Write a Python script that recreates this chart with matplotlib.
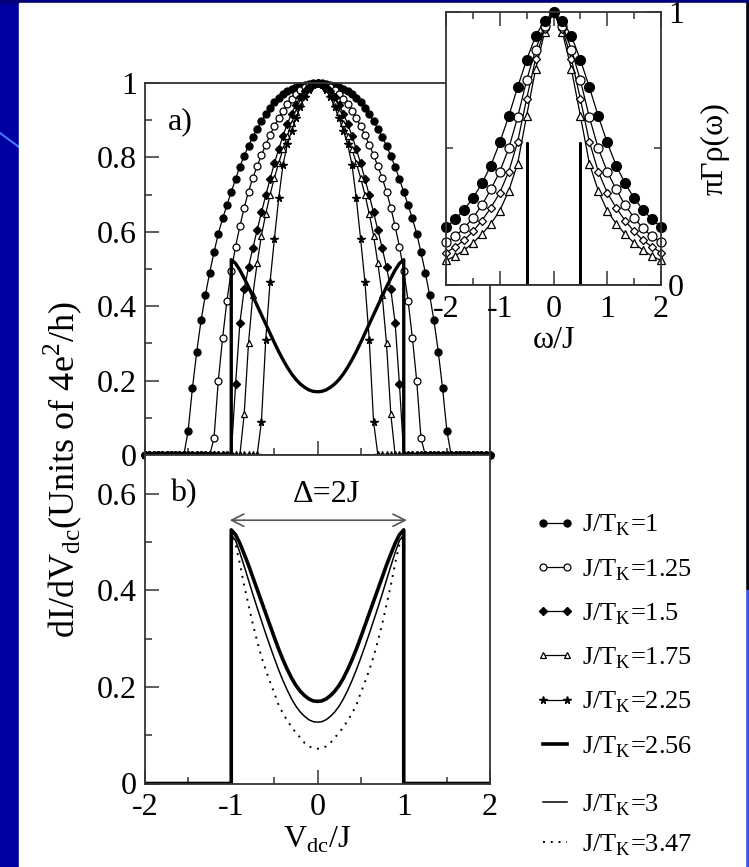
import numpy as np
import matplotlib
matplotlib.use("Agg")
import matplotlib.pyplot as plt
from matplotlib.lines import Line2D
from matplotlib.patches import Rectangle
from matplotlib.ticker import MultipleLocator, FixedLocator, FuncFormatter

plt.rcParams['font.family'] = ['Liberation Serif', 'DejaVu Serif']
plt.rcParams['mathtext.fontset'] = 'custom'
plt.rcParams['mathtext.rm'] = 'Liberation Serif'
plt.rcParams['axes.unicode_minus'] = False

# ---- panel a) / b): conductance, half curves for V_dc/J = 0 ... 2 (step 0.05), symmetric
v_half = np.linspace(0, 2, 41)
g_jtk1 = [1.000, 0.999, 0.997, 0.995, 0.992, 0.989, 0.985, 0.979, 0.971, 0.961,
          0.949, 0.934, 0.916, 0.897, 0.877, 0.855, 0.831, 0.804, 0.775, 0.742,
          0.707, 0.672, 0.636, 0.595, 0.545, 0.490, 0.430, 0.362, 0.278, 0.180,
          0.065] + [0.0] * 10
g_jtk125 = [1.000, 0.998, 0.994, 0.988, 0.980, 0.970, 0.958, 0.943, 0.926, 0.906,
            0.884, 0.860, 0.834, 0.806, 0.776, 0.745, 0.708, 0.665, 0.615, 0.560,
            0.495, 0.415, 0.315, 0.200, 0.045] + [0.0] * 16
g_jtk15 = [1.000, 0.997, 0.990, 0.978, 0.962, 0.942, 0.918, 0.890, 0.858, 0.822,
           0.784, 0.742, 0.698, 0.652, 0.604, 0.556, 0.505, 0.445, 0.355, 0.190,
           0.000] + [0.0] * 20
g_jtk175 = [1.000, 0.996, 0.986, 0.970, 0.948, 0.922, 0.892, 0.858, 0.822, 0.785,
            0.745, 0.700, 0.648, 0.590, 0.515, 0.430, 0.300, 0.110, 0.000] + [0.0] * 22
g_jtk225 = [1.000, 0.995, 0.982, 0.962, 0.935, 0.905, 0.872, 0.835, 0.780, 0.690,
            0.580, 0.465, 0.310, 0.090, 0.000] + [0.0] * 26

# gapped curves, V_dc/J = 0 ... 1 (step 0.05), zero outside |V| > 1
v_gap = np.linspace(0, 1, 21)
g_jtk256 = [0.170, 0.171, 0.175, 0.182, 0.191, 0.203, 0.218, 0.236, 0.256, 0.278,
            0.302, 0.327, 0.352, 0.377, 0.402, 0.427, 0.452, 0.475, 0.497, 0.515, 0.525]
g_jtk3 = [0.127, 0.128, 0.132, 0.139, 0.148, 0.160, 0.175, 0.193, 0.213, 0.235,
          0.259, 0.284, 0.310, 0.337, 0.364, 0.392, 0.421, 0.450, 0.478, 0.503, 0.515]
g_jtk347 = [0.072, 0.073, 0.077, 0.084, 0.095, 0.105, 0.117, 0.130, 0.145, 0.162,
            0.187, 0.210, 0.235, 0.262, 0.295, 0.330, 0.370, 0.410, 0.455, 0.495, 0.510]

# ---- inset: spectral function, omega/J = 0 ... 2, symmetric
w_half = np.linspace(0, 2, 13)
rho_jtk1 = [1.0, 0.968, 0.912, 0.825, 0.725, 0.618, 0.522, 0.437, 0.372, 0.318, 0.275, 0.240, 0.212]
rho_jtk125 = [1.0, 0.950, 0.862, 0.750, 0.615, 0.500, 0.415, 0.350, 0.292, 0.246, 0.207, 0.178, 0.156]
rho_jtk15 = [1.0, 0.938, 0.828, 0.682, 0.525, 0.415, 0.338, 0.282, 0.236, 0.196, 0.164, 0.139, 0.119]
rho_jtk175 = [1.0, 0.925, 0.790, 0.620, 0.445, 0.345, 0.272, 0.224, 0.186, 0.154, 0.127, 0.106, 0.090]
w_gap = [-2, -0.5, -0.5, -0.5, 0.5, 0.5, 0.5, 2]
rho_gap = [0, 0, 0.52, 0, 0, 0.52, 0, 0]

labels = ['J/T$_\\mathregular{K}$=1', 'J/T$_\\mathregular{K}$=1.25', 'J/T$_\\mathregular{K}$=1.5',
          'J/T$_\\mathregular{K}$=1.75', 'J/T$_\\mathregular{K}$=2.25', 'J/T$_\\mathregular{K}$=2.56',
          'J/T$_\\mathregular{K}$=3', 'J/T$_\\mathregular{K}$=3.47']


def mirror(x, y):
    x = np.asarray(x, float)
    y = np.asarray(y, float)
    return np.concatenate([-x[:0:-1], x]), np.concatenate([y[:0:-1], y])


def gapped(x, y):
    # vertical edges at |V| = 1, zero outside
    xm, ym = mirror(x, y)
    return (np.concatenate([[-2, -1], xm, [1, 2]]),
            np.concatenate([[0, 0], ym, [0, 0]]))


W, H = 749, 867
fx = lambda px: px / W
fy = lambda py: 1 - py / H

fig = plt.figure(figsize=(W / 100, H / 100), dpi=100)
fig.patch.set_facecolor('#0000a0')
# slide background pieces
fig.add_artist(Rectangle((0, fy(3)), 1, 3 / H, transform=fig.transFigure,
                         color='#000078', zorder=-5))
fig.add_artist(Rectangle((fx(745), fy(590)), 4 / W, 587 / H, transform=fig.transFigure,
                         color='#05050f', zorder=-5))
fig.add_artist(Rectangle((fx(745), 0), 4 / W, fy(590), transform=fig.transFigure,
                         color='#3355ee', zorder=-5))
fig.add_artist(Line2D([0, fx(19)], [fy(133), fy(147)], transform=fig.transFigure,
                      color='#4477ff', lw=1.5, zorder=-5))
fig.add_artist(Rectangle((fx(19), 0), (745 - 19) / W, fy(3), transform=fig.transFigure,
                         color='white', zorder=-4))

ax_a = fig.add_axes([fx(145), fy(455), (490 - 145) / W, (455 - 83) / H])
ax_b = fig.add_axes([fx(145), fy(783.5), (490 - 145) / W, (783.5 - 455) / H])
ax_in = fig.add_axes([fx(446), fy(285), (661 - 446) / W, (285 - 12) / H])
ax_in.set_zorder(3)

FS = 23
fmt = FuncFormatter(lambda v, p: '%g' % round(v, 3))

for ax in (ax_a, ax_b, ax_in):
    ax.set_xlim(-2, 2)
    ax.xaxis.set_major_locator(MultipleLocator(1))
    ax.xaxis.set_minor_locator(MultipleLocator(0.5))
    ax.xaxis.set_major_formatter(fmt)
    ax.yaxis.set_major_formatter(fmt)
    for s in ax.spines.values():
        s.set_linewidth(1.3)
        s.set_color('#333333')
    ax.tick_params(which='both', direction='in', width=1.1, color='#333333', labelsize=FS)
    ax.tick_params(which='major', length=10)
    ax.tick_params(which='minor', length=5)

# ---- panel a)
ax_a.set_ylim(0, 1)
ax_a.yaxis.set_major_locator(MultipleLocator(0.2))
ax_a.yaxis.set_minor_locator(MultipleLocator(0.1))
ax_a.tick_params(labelbottom=False, pad=6)

line_kw = dict(color='black', lw=0.9, clip_on=False)
h1, = ax_a.plot(*mirror(v_half, g_jtk1), marker='o', ms=5, mfc='black', mec='black', **line_kw)
h2, = ax_a.plot(*mirror(v_half, g_jtk125), marker='o', ms=5, mfc='white', mec='black', mew=0.9, **line_kw)
h3, = ax_a.plot(*mirror(v_half, g_jtk15), marker='D', ms=3.6, mfc='black', mec='black', **line_kw)
h4, = ax_a.plot(*mirror(v_half, g_jtk175), marker='^', ms=5, mfc='white', mec='black', mew=0.9, **line_kw)
h5, = ax_a.plot(*mirror(v_half, g_jtk225), marker='*', ms=5.5, mfc='black', mec='black', **line_kw)
ax_a.plot(*gapped(v_gap, g_jtk256), color='black', lw=2.4, clip_on=False)
ax_a.text(-1.73, 0.897, 'a)', fontsize=FS, va='center', ha='left')

# ---- panel b)
ax_b.set_ylim(0, 0.68)
ax_b.yaxis.set_major_locator(MultipleLocator(0.2))
ax_b.yaxis.set_minor_locator(MultipleLocator(0.1))
ax_b.tick_params(axis='y', pad=6)
ax_b.tick_params(axis='x', pad=7)
h8, = ax_b.plot(*gapped(v_gap, g_jtk347), color='black', lw=1.4, ls=(0, (1, 3)))
h7, = ax_b.plot(*gapped(v_gap, g_jtk3), color='black', lw=1.1)
h6, = ax_b.plot(*gapped(v_gap, g_jtk256), color='black', lw=2.6)
ax_b.annotate('', xy=(-1.05, 0.545), xytext=(1.07, 0.545),
              arrowprops=dict(arrowstyle='<->', color='#555555', lw=1.2, mutation_scale=22))
ax_b.text(0.1, 0.598, '\u0394=2J', fontsize=FS, ha='center', va='center')
ax_b.text(-1.71, 0.6, 'b)', fontsize=FS, va='center', ha='left')
ax_b.set_xlabel('V$_\\mathregular{dc}$/J', fontsize=FS, labelpad=2)

fig.text(fx(63), fy(470), 'dI/dV$_\\mathregular{dc}$(Units of 4e$^\\mathregular{2}$/h)',
         rotation=90, ha='center', va='center', fontsize=26)

# ---- inset
ax_in.set_ylim(0, 1)
ax_in.yaxis.set_major_locator(FixedLocator([0, 1]))
ax_in.yaxis.set_minor_locator(FixedLocator([0.5]))
ax_in.tick_params(which='both', top=True, right=True, labelleft=False, labelright=True)
ax_in.tick_params(axis='x', pad=7)
ax_in.tick_params(axis='y', pad=5)
ax_in.plot(*mirror(w_half, rho_jtk175), marker='^', ms=6, mfc='white', mec='black', mew=0.9, **line_kw)
ax_in.plot(*mirror(w_half, rho_jtk15), marker='D', ms=4.5, mfc='white', mec='black', mew=0.9, **line_kw)
ax_in.plot(*mirror(w_half, rho_jtk125), marker='o', ms=6.5, mfc='white', mec='black', mew=0.9, **line_kw)
ax_in.plot(*mirror(w_half, rho_jtk1), marker='o', ms=7, mfc='black', mec='black', **line_kw)
ax_in.plot(w_gap, rho_gap, color='black', lw=2)
ax_in.yaxis.set_label_position('right')
ax_in.set_ylabel('\u03c0\u0393\u03c1(\u03c9)', fontsize=FS, labelpad=12)
ax_in.set_xlabel('\u03c9/J', fontsize=FS, labelpad=2)

# ---- legend (two blocks: marker curves + 2.56, then the b)-only curves)
leg_kw = dict(loc='upper left', frameon=False, fontsize=19, numpoints=2,
              handlelength=1.5, handletextpad=0.3, borderpad=0, borderaxespad=0)
fig.legend([h1, h2, h3, h4, h5, h6], labels[:6], bbox_to_anchor=(fx(535), fy(513)),
           labelspacing=0.71, **leg_kw)
fig.legend([h7, h8], labels[6:], bbox_to_anchor=(fx(535), fy(792)),
           labelspacing=0.56, **leg_kw)

fig.savefig('out.png', dpi=100, facecolor=fig.get_facecolor())
